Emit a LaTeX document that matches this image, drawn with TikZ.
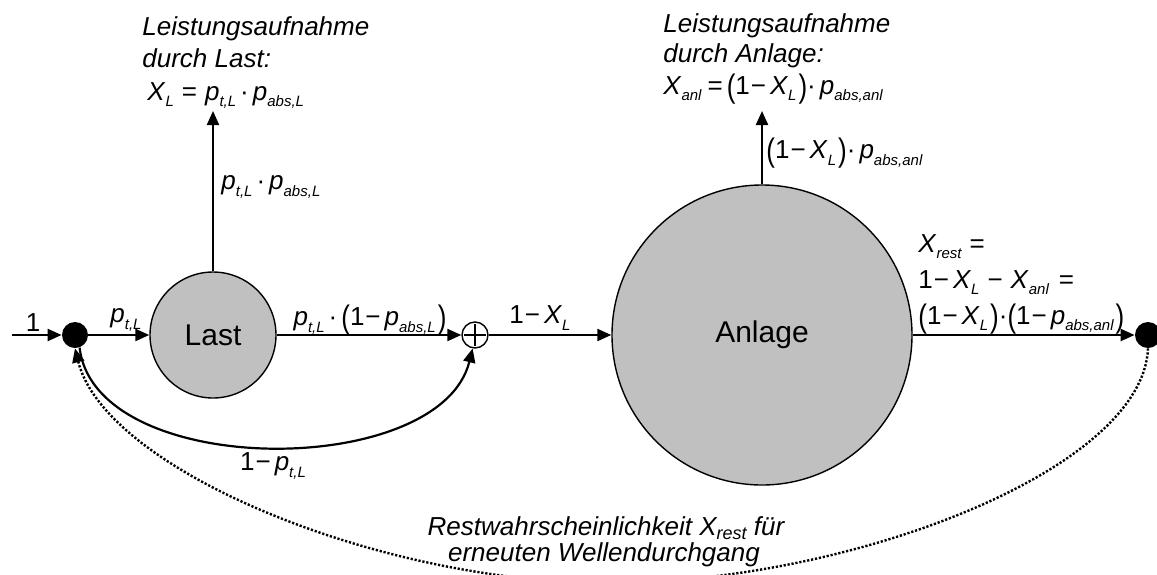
\documentclass[tikz,border=0pt]{standalone}
\usepackage{fontspec}
\usepackage{graphicx}
\setmainfont{Liberation Sans}
\usetikzlibrary{arrows.meta}

\definecolor{fillgray}{HTML}{C0C0C0}

% formula helpers: italic variables, lowered italic subscripts, tall parentheses
\newcommand\iv[1]{\textit{#1}}
\newcommand\lsub[1]{\raisebox{-0.5ex}{\fontsize{7.5}{7.5}\selectfont\itshape #1}}
\newcommand\tsub[1]{\raisebox{-0.3ex}{\fontsize{9}{9}\selectfont\itshape #1}}
\newcommand\mi{\kern0.5pt−\kern2pt}
\newcommand\md{\kern2pt·\kern2pt}
\newcommand\lpar{\raisebox{-0.12em}{\scalebox{1}[1.25]{(}}}
\newcommand\rpar{\raisebox{-0.12em}{\scalebox{1}[1.25]{)}}}

\tikzset{
  conn/.style={line width=1.1pt, -{Triangle[length=7pt,width=6pt]}},
  backloop/.style={line width=1.2pt, dash pattern=on 1.1pt off 0.9pt,
    -{Triangle[length=7pt,width=6pt]}},
  bigcirc/.style={circle, draw, line width=0.7pt, fill=fillgray, inner sep=0pt,
    font=\fontsize{15}{15}\selectfont},
  dotnode/.style={circle, fill=black, inner sep=0pt, minimum size=13pt},
  sumnode/.style={circle, draw, line width=0.7pt, fill=white, inner sep=0pt,
    minimum size=13pt},
  lbl/.style={font=\fontsize{13}{15}\selectfont, inner sep=0pt},
  note/.style={font=\fontsize{13}{15}\selectfont\itshape, inner sep=0pt},
}

\begin{document}
\begin{tikzpicture}[x=0.5pt, y=-0.5pt]
\useasboundingbox (0,0) rectangle (1157,574);

% main chain
\coordinate (in) at (12,335);
\node[dotnode] (dotL) at (75,335) {};
\node[bigcirc, minimum size=63pt] (last) at (213,335) {Last};
\node[sumnode] (plus) at (475,335) {};
\draw[line width=0.8pt, shorten <=1.5pt, shorten >=1.5pt] (plus.north) -- (plus.south);
\draw[line width=0.8pt, shorten <=1.5pt, shorten >=1.5pt] (plus.west) -- (plus.east);
\node[bigcirc, minimum size=150pt] (anl) at (762,335) {Anlage};
\node[dotnode] (dotR) at (1148,335) {};
\coordinate (upL) at (213,111);
\coordinate (upA) at (762,111);
\coordinate (low) at (608,583);

\draw[conn] (in) -- (dotL);
\draw[conn] (dotL) -- (last);
\draw[conn] (last) -- (plus);
\draw[conn] (plus) -- (anl);
\draw[conn] (anl) -- (dotR);
\draw[conn] (last.north) -- (upL);
\draw[conn] (anl.north) -- (upA);

% bypass around the load
\draw[conn] (dotL.-70) .. controls (95,480) and (440,480) .. (plus.-100);

% remaining probability fed back
\draw[backloop] (dotR.south) .. controls (1143,470) and (850,583) .. (low)
  .. controls (380,583) and (105,470) .. (dotL.south);

% edge labels
\node[lbl] (l1) at (33,323) {1};
\node[lbl] (lpt) at (126,320) {\iv{p}\lsub{t,L}};
\node[lbl] (lptabs) at (370,320) {\iv{p}\lsub{t,L}\md\lpar 1\mi\iv{p}\lsub{abs,L}\kern1pt\rpar};
\node[lbl] (lxl) at (540,318) {1\mi\iv{X}\lsub{L}};
\node[lbl, anchor=west] (lup) at (221,187) {\iv{p}\lsub{t,L}\md\iv{p}\lsub{abs,L}};
\node[lbl, anchor=west] (lupa) at (766,153) {\lpar 1\mi\iv{X}\lsub{L}\kern1pt\rpar·\kern2pt\iv{p}\lsub{abs,anl}};
\node[lbl] (lbyp) at (273,466) {1\mi\iv{p}\lsub{t,L}};

% absorbed power in the load
\node[note, anchor=base west] (tl1) at (142,35) {Leistungsaufnahme};
\node[note, anchor=base west] (tl2) at (142,67) {durch Last:};
\node[lbl, anchor=base west] (tl3) at (147,100) {\iv{X}\lsub{L}\kern4pt=\kern4pt\iv{p}\lsub{t,L}\md\iv{p}\lsub{abs,L}};

% absorbed power in the plant
\node[note, anchor=base west] (ta1) at (663,32) {Leistungsaufnahme};
\node[note, anchor=base west] (ta2) at (663,62) {durch Anlage:};
\node[lbl, anchor=base west] (ta3) at (663,94) {\iv{X}\lsub{anl}\kern3pt=\kern2pt\lpar 1\mi\iv{X}\lsub{L}\kern1pt\rpar·\kern2pt\iv{p}\lsub{abs,anl}};

% remaining probability
\node[lbl, anchor=base west] (tr1) at (918,252) {\iv{X}\lsub{rest}\kern4pt=};
\node[lbl, anchor=base west] (tr2) at (918,288) {1\mi\iv{X}\lsub{L}\kern4pt−\kern4pt\iv{X}\lsub{anl}\kern5pt=};
\node[lbl, anchor=base west] (tr3) at (918,324) {\lpar 1\mi\iv{X}\lsub{L}\kern1pt\rpar·\lpar 1\mi\iv{p}\lsub{abs,anl}\kern1pt\rpar};

\node[note, anchor=base] (tb1) at (606,535) {Restwahrscheinlichkeit \iv{X}\tsub{rest} für};
\node[note, anchor=base] (tb2) at (604,561) {erneuten Wellendurchgang};
\end{tikzpicture}
\end{document}
